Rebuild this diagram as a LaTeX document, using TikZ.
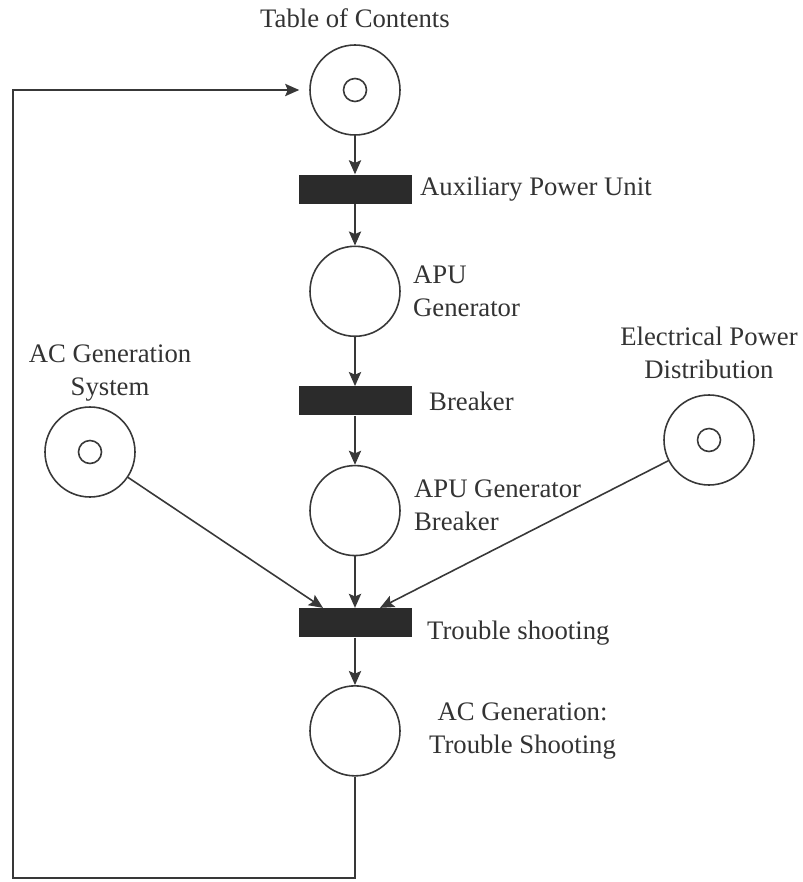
\documentclass[tikz,border=0pt]{standalone}
\usepackage{fontspec}
\setmainfont{Liberation Serif}
\usepackage{tikz}
\usetikzlibrary{arrows.meta,positioning}

\definecolor{linecol}{HTML}{383838}
\definecolor{barcol}{HTML}{2B2B2B}
\definecolor{txtcol}{HTML}{333333}

\begin{document}
\begin{tikzpicture}[
    place/.style={draw=linecol, circle, line width=0.9pt, minimum size=1.8cm, inner sep=0pt},
    token/.style={draw=linecol, circle, line width=0.9pt, minimum size=0.46cm, inner sep=0pt},
    trans/.style={fill=barcol, minimum width=2.26cm, minimum height=0.58cm, inner sep=0pt},
    lbl/.style={inner sep=0pt, text=txtcol, align=left, font=\fontsize{15.2pt}{18.8pt}\selectfont},
    arrow/.style={-{Stealth[length=8pt,width=7pt,inset=1.5pt]}, line width=0.9pt, draw=linecol}
]
\useasboundingbox[fill=white] (0,0) rectangle (16.06,-17.64);

% main column
\node (toc) [place] at (7.1,-1.8) {};
\node (bar1) [trans, below=0.77cm of toc] {};
\node (apugen) [place, below=0.83cm of bar1] {};
\node (bar2) [trans, below=0.98cm of apugen] {};
\node (apubrk) [place, below=0.98cm of bar2] {};
\node (bar3) [trans, below=1.03cm of apubrk] {};
\node (acts) [place, below=0.95cm of bar3] {};

% side places
\node (acsys) [place] at (1.8,-9.04) {};
\node (elec) [place] at (14.18,-8.8) {};

% tokens
\node (toctok) [token] at (toc.center) {};
\node (acsystok) [token] at (acsys.center) {};
\node (electok) [token] at (elec.center) {};

% labels
\node (title) [lbl, above=0.32cm of toc] {Table of Contents};
\node (auxlbl) [lbl, right=0.16cm of bar1] {Auxiliary Power Unit};
\node (apugenlbl) [lbl, right=0.24cm of apugen] {APU\\Generator};
\node (bar2lbl) [lbl, right=0.34cm of bar2] {Breaker};
\node (apubrklbl) [lbl, right=0.26cm of apubrk, yshift=0.1cm] {APU Generator\\Breaker};
\node (bar3lbl) [lbl, right=0.3cm of bar3, yshift=-0.2cm] {Trouble shooting};
\node (actslbl) [lbl, align=center, right=0.56cm of acts] {AC Generation:\\Trouble Shooting};
\node (acsyslbl) [lbl, align=center, above=0.1cm of acsys, xshift=0.4cm] {AC Generation\\System};
\node (eleclbl) [lbl, align=center, above=0.3cm of elec] {Electrical Power\\Distribution};

% arcs
\draw[arrow] (toc) -- (bar1);
\draw[arrow] (bar1) -- (apugen);
\draw[arrow] (apugen) -- (bar2);
\draw[arrow] (bar2) -- (apubrk);
\draw[arrow] (apubrk) -- (bar3);
\draw[arrow] (bar3) -- (acts);
\draw[arrow] (acsys) -- ([xshift=-0.64cm]bar3.north);
\draw[arrow] (elec) -- ([xshift=0.5cm]bar3.north);

% loop back
\coordinate (loopend) at (0.26,-17.56);
\draw[arrow, shorten >=0.2cm] (acts.south) |- (loopend) |- (toc.west);
\end{tikzpicture}
\end{document}
